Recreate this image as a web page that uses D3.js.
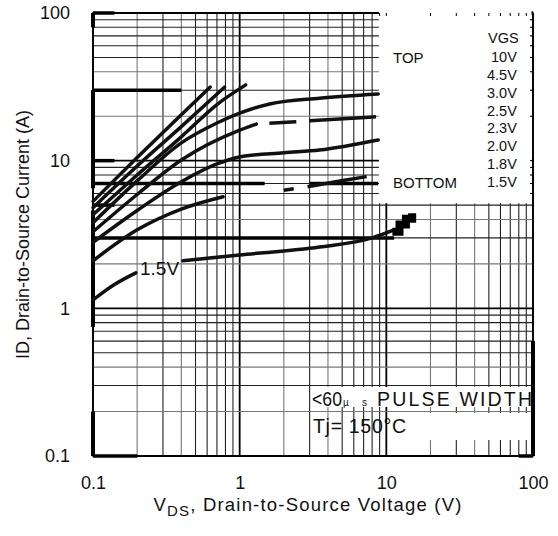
<!DOCTYPE html>
<html>
<head>
<meta charset="utf-8">
<script src="https://cdn.jsdelivr.net/npm/d3@7"></script>
<style>
  body { margin: 0; background: #fff; }
  text { font-family: "Liberation Sans", Arial, sans-serif; fill: #111; }
</style>
</head>
<body>
<svg id="chart"></svg>
<script>
const width = 558;
const height = 536;

// tick labels
const xTicks = [0.1, 1, 10, 100];
const yTicks = [0.1, 1, 10, 100];

// VGS legend
const vgsLabels = ["10V", "4.5V", "3.0V", "2.5V", "2.3V", "2.0V", "1.8V", "1.5V"];

// curves, [VDS, ID]
const curve10V  = [[0.1, 5.3], [0.2, 10.5], [0.4, 20.5], [0.63, 31.5]];
const curve45V  = [[0.1, 4.8], [0.2, 9.2], [0.4, 17], [0.79, 31.5]];
const curve30V  = [[0.1, 4.3], [0.2, 8], [0.4, 14.5], [0.7, 24], [1.1, 32.6]];
const curve25V  = [[0.1, 3.8], [0.2, 7.3], [0.4, 13.2], [0.7, 18], [1.0, 21], [1.6, 24.2], [3.5, 26.5], [8.8, 28.3]];
const curve23V  = [[0.1, 3.3], [0.2, 5.9], [0.4, 10.1], [1.0, 16.1], [1.3, 17.7]];
const curve23Vdash = [[1.3, 17.7], [3, 18.6], [8.5, 19.8]];
const curve20V  = [[0.1, 2.8], [0.2, 4.6], [0.4, 7.2], [0.7, 9.5], [1.0, 10.6], [2, 11.3], [3.5, 11.8], [8.8, 13.8]];
const curve18V  = [[0.1, 2.1], [0.2, 3.4], [0.4, 4.7], [0.77, 5.7]];
const curve18Vdash = [[2.0, 6.3], [3, 6.7], [5.3, 7.4], [8, 7.9]];
const curve15V  = [[0.1, 1.14], [0.14, 1.45], [0.196, 1.74]];
const curve15Vb = [[0.41, 2.1], [1, 2.3], [3.5, 2.6], [8, 3.0], [11.3, 3.4]];
const curve15Vtail = [[11.0, 3.3], [12.3, 3.7], [13.6, 4.05], [15, 4.4]];

// heavy rules of the scanned sheet, [ID, VDS from, VDS to] and [VDS, ID from, ID to]
const heavyH = [[100, 0.1, 0.14], [100, 80, 100], [30, 0.1, 0.4], [10, 0.1, 0.14], [7, 0.1, 1.48], [7, 3.0, 8.8], [5, 0.1, 0.14], [3, 0.1, 11.3], [0.1, 0.1, 0.2], [0.1, 80, 100]];
const heavyV = [[0.1, 80, 100], [0.1, 6.5, 30], [0.1, 0.75, 4.6], [0.1, 0.1, 0.2], [100, 0.1, 0.6]];

const margin = {top: 13, right: 25, bottom: 80, left: 93};

const svg = d3.select("#chart")
  .attr("width", width)
  .attr("height", height)
  .attr("viewBox", [0, 0, width, height]);

const x = d3.scaleLog().domain([0.1, 100]).range([margin.left, width - margin.right]);
const y = d3.scaleLog().domain([0.1, 100]).range([height - margin.bottom, margin.top]);

// grid
const mantissa = d => Math.round(d / Math.pow(10, Math.floor(Math.log10(d) + 1e-9)));
const gridColor = d => {
  const m = mantissa(d);
  return m === 1 ? "#000" : (m === 2 || m === 4 ? "#777" : "#222");
};
const gridWidth = d => mantissa(d) === 1 ? 1.8 : 1.1;

const grid = svg.append("g");
grid.selectAll(".vx")
  .data(x.ticks())
  .join("line")
  .attr("x1", d => x(d)).attr("x2", d => x(d))
  .attr("y1", y(0.1)).attr("y2", y(100))
  .attr("stroke", gridColor)
  .attr("stroke-width", gridWidth);
grid.selectAll(".hy")
  .data(y.ticks())
  .join("line")
  .attr("x1", x(0.1)).attr("x2", x(100))
  .attr("y1", d => y(d)).attr("y2", d => y(d))
  .attr("stroke", gridColor)
  .attr("stroke-width", gridWidth);

// frame
svg.append("rect")
  .attr("x", x(0.1)).attr("y", y(100))
  .attr("width", x(100) - x(0.1)).attr("height", y(0.1) - y(100))
  .attr("fill", "none").attr("stroke", "#000").attr("stroke-width", 1.5);

// heavy rules
svg.append("g").selectAll("line")
  .data(heavyH)
  .join("line")
  .attr("x1", d => x(d[1])).attr("x2", d => x(d[2]))
  .attr("y1", d => y(d[0])).attr("y2", d => y(d[0]))
  .attr("stroke", "#000").attr("stroke-width", 3.5);
svg.append("g").selectAll("line")
  .data(heavyV)
  .join("line")
  .attr("x1", d => x(d[0])).attr("x2", d => x(d[0]))
  .attr("y1", d => y(d[1])).attr("y2", d => y(d[2]))
  .attr("stroke", "#000").attr("stroke-width", 4);

// legend box blanks the grid
const legX = x(8.9);
svg.append("rect")
  .attr("x", legX).attr("y", y(100) - 2)
  .attr("width", x(100) - legX - 1.5).attr("height", y(5.15) - y(100) + 2)
  .attr("fill", "#fff");
svg.append("g").selectAll("line")
  .data(x.ticks().filter(d => x(d) > legX && d < 100))
  .join("line")
  .attr("x1", d => x(d)).attr("x2", d => x(d))
  .attr("y1", y(100)).attr("y2", y(100) + 3)
  .attr("stroke", "#000");
svg.append("g").selectAll("line")
  .data(y.ticks().filter(d => y(d) < y(5.15) && d < 100))
  .join("line")
  .attr("x1", x(100) - 3).attr("x2", x(100))
  .attr("y1", d => y(d)).attr("y2", d => y(d))
  .attr("stroke", "#000");

// note boxes
svg.append("rect").attr("x", 311).attr("y", 387).attr("width", 220).attr("height", 20).attr("fill", "#fff");
svg.append("rect").attr("x", 420).attr("y", 413).attr("width", 111).attr("height", 27).attr("fill", "#fff");

// curves
const line = d3.line()
  .x(d => x(d[0]))
  .y(d => y(d[1]))
  .curve(d3.curveMonotoneX);

const solidCurves = [curve10V, curve45V, curve30V, curve25V, curve23V, curve20V, curve18V, curve15V, curve15Vb];
svg.append("g")
  .attr("fill", "none")
  .attr("stroke", "#111")
  .attr("stroke-width", 3.5)
  .attr("stroke-linecap", "round")
  .selectAll("path")
  .data(solidCurves)
  .join("path")
  .attr("d", line);

svg.append("path")
  .datum(curve23Vdash)
  .attr("fill", "none").attr("stroke", "#111").attr("stroke-width", 3.5)
  .attr("stroke-dasharray", "0 13 27 13 60")
  .attr("d", line);
svg.append("path")
  .datum(curve18Vdash)
  .attr("fill", "none").attr("stroke", "#111").attr("stroke-width", 3.5)
  .attr("stroke-dasharray", "10 14 60 8")
  .attr("d", line);
svg.append("path")
  .datum(curve15Vtail)
  .attr("fill", "none").attr("stroke", "#000").attr("stroke-width", 8)
  .attr("d", d3.line().x(d => x(d[0])).y(d => y(d[1])).curve(d3.curveStepAfter));

// legend text
const leg = svg.append("g").style("font-size", "14.5px");
leg.append("text").attr("x", 488).attr("y", 43).text("VGS");
leg.append("text").attr("x", 393).attr("y", 63).style("font-size", "15px").text("TOP");
leg.append("text").attr("x", 393).attr("y", 188).style("font-size", "15px").text("BOTTOM");
const rowY = d3.scaleLinear().domain([0, vgsLabels.length - 1]).range([62, 187]);
leg.selectAll(".vgs")
  .data(vgsLabels)
  .join("text")
  .attr("x", (d, i) => i === 0 ? 491 : 487)
  .attr("y", (d, i) => rowY(i))
  .text(d => d);

// curve label
svg.append("text").attr("x", 140).attr("y", 275).style("font-size", "19px").text("1.5V");

// notes
const note = svg.append("g").style("font-size", "19.5px");
note.append("text").attr("x", 312).attr("y", 406).attr("textLength", 30).attr("lengthAdjust", "spacingAndGlyphs").text("<60");
note.append("text").attr("x", 343).attr("y", 406).style("font-size", "10px").attr("textLength", 24).text("µs");
note.append("text").attr("x", 377).attr("y", 406).attr("textLength", 155).text("PULSE WIDTH");
note.append("text").attr("x", 313).attr("y", 433).attr("textLength", 93).text("Tj= 150°C");

// axes
const fmt = d => d < 1 ? "0.1" : d3.format("d")(d);
svg.append("g")
  .attr("transform", `translate(0,${y(0.1)})`)
  .call(d3.axisBottom(x).tickValues(xTicks).tickFormat(fmt).tickSize(0).tickPadding(20))
  .call(g => g.select(".domain").remove());

svg.append("g")
  .attr("transform", `translate(${x(0.1)},0)`)
  .call(d3.axisLeft(y).tickValues(yTicks).tickFormat(fmt).tickSize(0).tickPadding(23))
  .call(g => g.select(".domain").remove());

svg.selectAll(".tick text")
  .style("font-size", "18px")
  .style("fill", "#111")
  .attr("font-family", null);

// titles
const xt = svg.append("text")
  .attr("x", 308).attr("y", 511)
  .attr("text-anchor", "middle")
  .style("font-size", "18.5px")
  .style("letter-spacing", "1.2px");
xt.append("tspan").text("V");
xt.append("tspan").attr("dy", 5).style("font-size", "15px").text("DS");
xt.append("tspan").attr("dy", -5).text(", Drain-to-Source Voltage  (V)");

svg.append("text")
  .attr("transform", `translate(29,${(y(0.1) + y(100)) / 2}) rotate(-90)`)
  .attr("text-anchor", "middle")
  .style("font-size", "18px")
  .text("ID,  Drain-to-Source Current (A)");
</script>
</body>
</html>
